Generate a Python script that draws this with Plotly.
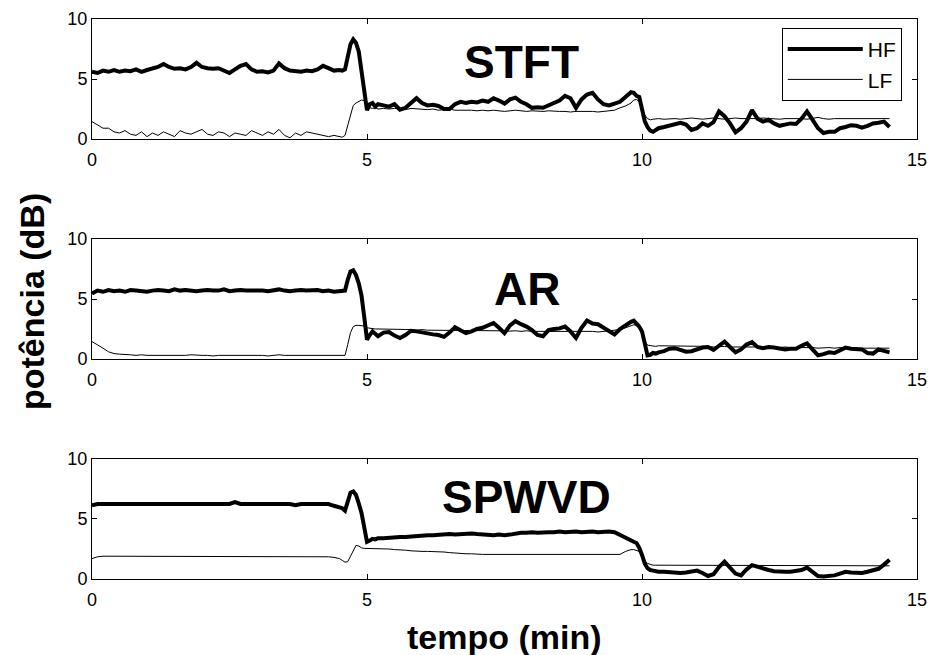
import numpy as np
import plotly.graph_objects as go
from plotly.subplots import make_subplots

# ---- sampling grid (minutes): denser around the transitions ----
time = np.round(np.concatenate([
    np.arange(0.0, 4.501, 0.1),
    np.arange(4.55, 5.201, 0.05),
    np.arange(5.3, 9.801, 0.1),
    np.arange(9.85, 10.301, 0.05),
    np.arange(10.4, 14.501, 0.1),
]), 2)

method_titles = ["STFT", "AR", "SPWVD"]
series_names = ["HF", "LF"]
x_tick_vals = [0, 5, 10, 15]
y_tick_vals = [0, 5, 10]

# ---- STFT ----
stft_hf = (
    [5.6, 5.5, 5.7, 5.6, 5.75, 5.6, 5.7, 5.65, 5.8, 5.6,
     5.75, 5.9, 6.0, 6.25, 6.0, 5.85, 5.9, 5.8, 6.0, 6.35,
     6.0, 5.9, 5.85, 5.9, 5.7, 5.5, 5.8, 6.1, 6.25, 5.8,
     5.6, 5.65, 5.55, 5.7, 6.3, 5.9, 5.7, 5.65, 5.6, 5.7,
     5.65, 5.8, 6.1, 5.9, 5.7, 5.75]
    + [5.7, 5.8, 6.9, 7.9, 8.3, 8.0, 7.3, 5.8, 4.0, 2.4, 2.9, 3.0, 2.7, 2.9]
    + [2.8, 2.7, 2.9, 2.45, 2.6, 3.0, 3.4, 3.0, 2.8, 2.85,
       2.75, 2.5, 2.5, 2.9, 3.1, 3.0, 3.1, 3.05, 3.2, 3.1,
       3.4, 3.2, 2.95, 3.3, 3.45, 3.1, 2.9, 2.6, 2.65, 2.6,
       2.8, 3.0, 3.2, 3.6, 3.4, 2.6, 3.3, 3.7, 3.85, 3.3,
       2.9, 2.8, 2.95, 3.1, 3.5, 3.9]
    + [3.85, 3.6, 3.5, 2.6, 1.5, 1.0, 0.7, 0.6, 0.75, 0.9]
    + [1.0, 1.1, 1.2, 1.35, 1.2, 0.75, 0.9, 1.3, 1.1, 1.4,
       2.3, 1.9, 1.3, 0.55, 0.9, 1.45, 2.4, 1.7, 1.45, 1.6,
       1.3, 1.1, 1.2, 1.3, 1.25, 1.7, 2.3, 1.6, 0.9, 0.5,
       0.6, 0.6, 0.9, 1.0, 1.15, 1.1, 0.95, 1.1, 1.3, 1.35,
       1.45, 1.0]
)
stft_lf = (
    [1.45, 1.2, 0.9, 0.9, 0.6, 0.5, 0.7, 0.4, 0.3, 0.6,
     0.2, 0.5, 0.3, 0.6, 0.4, 0.2, 0.7, 0.5, 0.4, 0.6,
     0.8, 0.4, 0.3, 0.6, 0.5, 0.2, 0.5, 0.4, 0.3, 0.7,
     0.5, 0.3, 0.6, 0.4, 0.8, 0.3, 0.1, 0.5, 0.3, 0.6,
     0.5, 0.4, 0.3, 0.2, 0.3, 0.2]
    + [0.15, 0.3, 1.2, 2.1, 2.8, 3.0, 3.15, 3.25, 3.2, 2.9, 2.6, 2.55, 2.6, 2.5]
    + [2.55, 2.5, 2.55, 2.5, 2.45, 2.55, 2.5, 2.5, 2.45, 2.5,
       2.4, 2.45, 2.5, 2.4, 2.4, 2.45, 2.4, 2.35, 2.4, 2.35,
       2.4, 2.35, 2.3, 2.35, 2.4, 2.35, 2.3, 2.35, 2.3, 2.3,
       2.35, 2.3, 2.3, 2.3, 2.25, 2.3, 2.3, 2.35, 2.3, 2.25,
       2.3, 2.35, 2.4, 2.6, 2.75, 3.0]
    + [3.25, 3.3, 3.1, 2.6, 2.0, 1.7, 1.6, 1.65, 1.7, 1.7]
    + [1.65, 1.7, 1.7, 1.65, 1.7, 1.75, 1.7, 1.65, 1.7, 1.75,
       1.7, 1.65, 1.7, 1.75, 1.7, 1.7, 1.65, 1.7, 1.75, 1.7,
       1.7, 1.65, 1.7, 1.7, 1.75, 1.7, 1.65, 1.7, 1.8, 1.7,
       1.65, 1.7, 1.7, 1.65, 1.7, 1.7, 1.65, 1.7, 1.7, 1.65,
       1.7, 1.7]
)

# ---- AR ----
ar_hf = (
    [5.45, 5.7, 5.6, 5.75, 5.65, 5.7, 5.6, 5.75, 5.7, 5.65,
     5.6, 5.7, 5.75, 5.7, 5.65, 5.8, 5.7, 5.75, 5.7, 5.65,
     5.7, 5.75, 5.7, 5.7, 5.8, 5.65, 5.7, 5.75, 5.7, 5.7,
     5.75, 5.7, 5.65, 5.7, 5.8, 5.7, 5.65, 5.7, 5.75, 5.7,
     5.7, 5.75, 5.65, 5.7, 5.6, 5.65]
    + [5.6, 5.7, 6.6, 7.3, 7.4, 7.0, 6.3, 5.3, 3.5, 1.6, 2.0, 2.3, 2.1, 1.9]
    + [2.2, 2.25, 1.95, 1.75, 2.0, 2.35, 2.3, 2.2, 2.15, 2.05,
       2.0, 1.85, 2.2, 2.65, 2.4, 2.15, 2.3, 2.5, 2.6, 2.8,
       3.0, 2.6, 2.15, 2.8, 3.15, 2.9, 2.7, 2.4, 2.0, 1.9,
       2.4, 2.5, 2.55, 2.7, 2.3, 1.75, 2.6, 3.2, 2.95, 2.9,
       2.6, 2.3, 2.05, 2.5, 2.85, 3.1]
    + [3.2, 3.0, 2.7, 2.3, 1.3, 0.3, 0.35, 0.5, 0.45, 0.55]
    + [0.65, 0.85, 0.9, 0.75, 0.6, 0.65, 0.8, 0.95, 1.0, 0.75,
       1.1, 1.45, 1.0, 0.55, 0.8, 1.2, 1.4, 1.0, 0.9, 1.0,
       0.95, 0.85, 0.8, 0.85, 0.85, 1.1, 1.3, 0.8, 0.3, 0.4,
       0.55, 0.5, 0.75, 0.95, 0.85, 0.8, 0.8, 0.5, 0.45, 0.8,
       0.7, 0.55]
)
ar_lf = (
    [1.45, 1.2, 0.9, 0.6, 0.45, 0.4, 0.4, 0.35, 0.3, 0.35,
     0.3, 0.3, 0.25, 0.3, 0.3, 0.25, 0.3, 0.3, 0.35, 0.3,
     0.3, 0.3, 0.25, 0.3, 0.3, 0.3, 0.3, 0.35, 0.3, 0.3,
     0.3, 0.3, 0.25, 0.3, 0.35, 0.3, 0.3, 0.3, 0.3, 0.3,
     0.3, 0.3, 0.3, 0.25, 0.3, 0.3]
    + [0.25, 0.3, 1.2, 2.2, 2.7, 2.8, 2.8, 2.8, 2.75, 2.6, 2.55, 2.55, 2.5, 2.5]
    + [2.5, 2.5, 2.45, 2.5, 2.45, 2.45, 2.4, 2.45, 2.4, 2.4,
       2.4, 2.4, 2.35, 2.4, 2.4, 2.35, 2.4, 2.35, 2.35, 2.4,
       2.35, 2.35, 2.3, 2.35, 2.35, 2.3, 2.35, 2.3, 2.3, 2.35,
       2.3, 2.3, 2.35, 2.3, 2.3, 2.3, 2.3, 2.3, 2.3, 2.25,
       2.3, 2.3, 2.35, 2.45, 2.6, 2.8]
    + [2.85, 2.8, 2.6, 2.1, 1.5, 1.15, 1.1, 1.1, 1.05, 1.1]
    + [1.1, 1.05, 1.1, 1.1, 1.05, 1.05, 1.1, 1.05, 1.05, 1.0,
       1.05, 1.05, 1.0, 1.0, 1.05, 1.0, 1.0, 1.0, 0.95, 1.0,
       1.0, 0.95, 1.0, 0.95, 0.95, 1.0, 0.95, 0.95, 0.9, 0.95,
       0.95, 0.9, 0.95, 0.9, 0.9, 0.9, 0.95, 0.9, 0.9, 0.9,
       0.9, 0.9]
)

# ---- SPWVD ----
spwvd_hf = (
    [6.15, 6.25, 6.25, 6.25, 6.25, 6.25, 6.25, 6.25, 6.25, 6.25,
     6.25, 6.25, 6.25, 6.25, 6.25, 6.25, 6.25, 6.25, 6.25, 6.25,
     6.25, 6.25, 6.25, 6.25, 6.25, 6.25, 6.4, 6.25, 6.25, 6.25,
     6.25, 6.25, 6.25, 6.25, 6.25, 6.25, 6.25, 6.15, 6.25, 6.25,
     6.25, 6.25, 6.25, 6.25, 6.1, 6.0]
    + [5.9, 5.7, 6.6, 7.2, 7.3, 7.0, 6.3, 5.5, 4.3, 3.1, 3.2, 3.35, 3.3, 3.4]
    + [3.4, 3.45, 3.45, 3.5, 3.5, 3.55, 3.6, 3.6, 3.65, 3.65,
       3.7, 3.7, 3.75, 3.7, 3.75, 3.75, 3.8, 3.75, 3.7, 3.7,
       3.65, 3.7, 3.65, 3.7, 3.8, 3.85, 3.85, 3.9, 3.85, 3.9,
       3.9, 3.9, 3.95, 3.9, 3.95, 3.95, 3.9, 3.95, 3.95, 3.9,
       3.95, 3.95, 3.9, 3.65, 3.45, 3.2]
    + [3.1, 3.0, 2.6, 2.0, 1.3, 0.9, 0.75, 0.7, 0.65, 0.6]
    + [0.6, 0.55, 0.5, 0.5, 0.55, 0.65, 0.7, 0.5, 0.25, 0.4,
       1.0, 1.45, 1.0, 0.45, 0.3, 0.8, 1.15, 1.0, 0.9, 0.75,
       0.65, 0.6, 0.6, 0.6, 0.65, 0.75, 0.95, 0.6, 0.25, 0.2,
       0.25, 0.3, 0.45, 0.6, 0.55, 0.5, 0.5, 0.6, 0.75, 0.85,
       1.2, 1.6]
)
spwvd_lf = (
    [1.7, 1.85, 1.9, 1.9, 1.9, 1.9, 1.9, 1.9, 1.9, 1.9,
     1.9, 1.9, 1.9, 1.9, 1.9, 1.9, 1.9, 1.9, 1.9, 1.9,
     1.9, 1.9, 1.9, 1.9, 1.9, 1.9, 1.9, 1.9, 1.9, 1.9,
     1.9, 1.9, 1.9, 1.9, 1.9, 1.9, 1.9, 1.85, 1.85, 1.85,
     1.9, 1.9, 1.9, 1.85, 1.8, 1.7]
    + [1.55, 1.4, 1.45, 1.9, 2.4, 2.8, 2.75, 2.6, 2.55, 2.55, 2.55, 2.55, 2.55, 2.5]
    + [2.5, 2.5, 2.45, 2.45, 2.4, 2.35, 2.3, 2.3, 2.3, 2.3,
       2.25, 2.25, 2.2, 2.15, 2.1, 2.1, 2.1, 2.05, 2.05, 2.05,
       2.05, 2.05, 2.05, 2.05, 2.05, 2.05, 2.05, 2.05, 2.05, 2.05,
       2.0, 2.0, 2.0, 2.05, 2.0, 2.0, 2.0, 2.0, 2.0, 2.0,
       2.0, 2.0, 2.0, 2.05, 2.3, 2.45]
    + [2.45, 2.4, 2.3, 2.0, 1.5, 1.3, 1.2, 1.15, 1.15, 1.15]
    + [1.15, 1.15, 1.15, 1.15, 1.15, 1.15, 1.15, 1.15, 1.15, 1.15,
       1.15, 1.15, 1.15, 1.15, 1.15, 1.15, 1.15, 1.15, 1.15, 1.15,
       1.1, 1.1, 1.1, 1.1, 1.1, 1.1, 1.1, 1.1, 1.1, 1.1,
       1.1, 1.1, 1.1, 1.1, 1.1, 1.1, 1.1, 1.1, 1.1, 1.1,
       1.1, 1.1]
)

hf_series = [stft_hf, ar_hf, spwvd_hf]
lf_series = [stft_lf, ar_lf, spwvd_lf]
for s in hf_series + lf_series:
    assert len(s) == len(time), (len(s), len(time))

# title positions in data coordinates
title_pos = [(7.8, 6.4), (7.9, 5.8), (7.9, 6.8)]

FONT = "Liberation Sans, Arial, Helvetica, sans-serif"

fig = make_subplots(rows=3, cols=1, vertical_spacing=0.0)

for i in range(3):
    r = i + 1
    fig.add_trace(go.Scatter(x=time, y=hf_series[i], mode="lines", name=series_names[0],
                             line=dict(color="black", width=4), showlegend=(i == 0)),
                  row=r, col=1)
    fig.add_trace(go.Scatter(x=time, y=lf_series[i], mode="lines", name=series_names[1],
                             line=dict(color="black", width=1), showlegend=(i == 0)),
                  row=r, col=1)

domains = [[0.7857, 1.0], [0.3929, 0.6071], [0.0, 0.2143]]
for i in range(3):
    xa = "xaxis" if i == 0 else f"xaxis{i+1}"
    ya = "yaxis" if i == 0 else f"yaxis{i+1}"
    fig.layout[xa].update(range=[0, 15], tickvals=x_tick_vals, ticktext=[str(v) for v in x_tick_vals],
                          ticks="inside", ticklen=5, tickcolor="black", showline=True,
                          linecolor="black", linewidth=1, mirror="ticks", showgrid=False,
                          zeroline=False, automargin=False, ticklabelstandoff=4,
                          tickfont=dict(family=FONT, size=18, color="black"))
    fig.layout[ya].update(range=[0, 10], tickvals=y_tick_vals, ticktext=[str(v) for v in y_tick_vals],
                          ticks="inside", ticklen=5, tickcolor="black", showline=True,
                          linecolor="black", linewidth=1, mirror="ticks", showgrid=False,
                          zeroline=False, domain=domains[i], automargin=False,
                          tickfont=dict(family=FONT, size=18, color="black"))
    fig.add_annotation(x=title_pos[i][0], y=title_pos[i][1], xref=f"x{'' if i == 0 else i+1}",
                       yref=f"y{'' if i == 0 else i+1}", text=f"<b>{method_titles[i]}</b>",
                       showarrow=False, font=dict(family=FONT, size=46, color="black"),
                       xanchor="center", yanchor="middle")

fig.add_annotation(x=-0.073, y=0.496, xref="paper", yref="paper", text="<b>potência (dB)</b>",
                   textangle=-90, showarrow=False, font=dict(family=FONT, size=34, color="black"),
                   xanchor="center", yanchor="middle")
fig.add_annotation(x=0.5, y=-0.1036, xref="paper", yref="paper", text="<b>tempo (min)</b>",
                   showarrow=False, font=dict(family=FONT, size=34, color="black"),
                   xanchor="center", yanchor="middle")

fig.update_layout(
    width=931, height=655,
    margin=dict(l=92, r=14, t=19, b=76),
    paper_bgcolor="white", plot_bgcolor="white",
    legend=dict(x=0.9815, y=0.984, xanchor="right", yanchor="top",
                bordercolor="black", borderwidth=1, bgcolor="white",
                font=dict(family=FONT, size=21, color="black"),
                itemwidth=75, tracegroupgap=0, entrywidth=45),
    font=dict(family=FONT, color="black"),
)

fig.write_html("out.html", config={"displayModeBar": False},
               post_script="document.body.style.margin='0px';document.body.style.padding='0px';")
